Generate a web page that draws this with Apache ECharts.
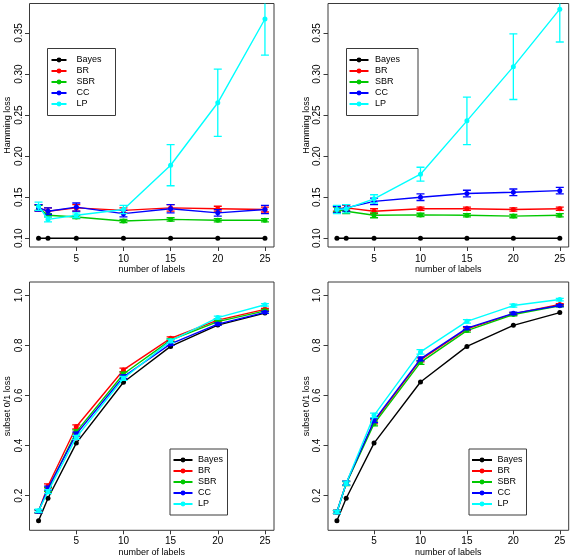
<!DOCTYPE html>
<html>
<head>
<meta charset="utf-8">
<script src="https://cdn.jsdelivr.net/npm/echarts@6/dist/echarts.min.js"></script>
<style>
html,body{margin:0;padding:0;background:#fff;}
#c{width:576px;height:558px;}
</style>
</head>
<body>
<div id="c"></div>
<script>
// ---------- data ----------
const labelsCount = [1, 2, 5, 10, 15, 20, 25];
const methods = ['Bayes', 'BR', 'SBR', 'CC', 'LP'];
const methodColors = ['#000000', '#ff0000', '#00c800', '#0000ff', '#00ffff'];

const xTicks = [5, 10, 15, 20, 25];
const hammingTicks = [0.10, 0.15, 0.20, 0.25, 0.30, 0.35];
const subsetTicks = [0.2, 0.4, 0.6, 0.8, 1.0];

// Panel 1: Hamming loss (left)
const hamA_Bayes = [0.100, 0.100, 0.100, 0.100, 0.100, 0.100, 0.100];
const hamA_BR    = [0.137, 0.133, 0.137, 0.134, 0.137, 0.136, 0.135];
const hamA_SBR   = [0.137, 0.128, 0.126, 0.121, 0.123, 0.122, 0.122];
const hamA_CC    = [0.137, 0.133, 0.138, 0.130, 0.136, 0.131, 0.135];
const hamA_LP    = [0.139, 0.123, 0.128, 0.135, 0.189, 0.265, 0.367];
const hamA_BR_err  = [0.004, 0.004, 0.004, 0.003, 0.004, 0.003, 0.003];
const hamA_SBR_err = [0.003, 0.002, 0.002, 0.002, 0.002, 0.002, 0.002];
const hamA_CC_err  = [0.004, 0.004, 0.005, 0.004, 0.005, 0.004, 0.005];
const hamA_LP_err  = [0.005, 0.003, 0.003, 0.005, 0.025, 0.041, 0.044];

// Panel 2: Hamming loss (right)
const hamB_Bayes = [0.100, 0.100, 0.100, 0.100, 0.100, 0.100, 0.100];
const hamB_BR    = [0.136, 0.137, 0.133, 0.136, 0.136, 0.135, 0.136];
const hamB_SBR   = [0.135, 0.133, 0.128, 0.1285, 0.128, 0.127, 0.128];
const hamB_CC    = [0.135, 0.137, 0.145, 0.150, 0.1545, 0.156, 0.158];
const hamB_LP    = [0.135, 0.136, 0.148, 0.178, 0.243, 0.309, 0.379];
const hamB_BR_err  = [0.003, 0.003, 0.003, 0.002, 0.002, 0.002, 0.002];
const hamB_SBR_err = [0.003, 0.003, 0.003, 0.002, 0.002, 0.002, 0.002];
const hamB_CC_err  = [0.004, 0.004, 0.004, 0.004, 0.004, 0.004, 0.004];
const hamB_LP_err  = [0.005, 0.005, 0.005, 0.0085, 0.029, 0.040, 0.040];

// Panel 3: subset 0/1 loss (left)
const subA_Bayes = [0.100, 0.190, 0.410, 0.653, 0.796, 0.881, 0.929];
const subA_BR    = [0.138, 0.239, 0.475, 0.702, 0.828, 0.901, 0.944];
const subA_SBR   = [0.138, 0.225, 0.455, 0.686, 0.821, 0.895, 0.938];
const subA_CC    = [0.138, 0.230, 0.446, 0.675, 0.806, 0.885, 0.932];
const subA_LP    = [0.140, 0.216, 0.433, 0.668, 0.818, 0.911, 0.962];
const subA_BR_err  = [0.006, 0.008, 0.008, 0.007, 0.006, 0.005, 0.004];
const subA_SBR_err = [0.006, 0.008, 0.008, 0.007, 0.006, 0.005, 0.004];
const subA_CC_err  = [0.006, 0.008, 0.008, 0.007, 0.006, 0.005, 0.004];
const subA_LP_err  = [0.006, 0.008, 0.008, 0.008, 0.007, 0.006, 0.005];

// Panel 4: subset 0/1 loss (right)
const subB_Bayes = [0.100, 0.190, 0.410, 0.654, 0.796, 0.880, 0.931];
const subB_BR    = [0.135, 0.250, 0.495, 0.742, 0.866, 0.926, 0.963];
const subB_SBR   = [0.135, 0.248, 0.487, 0.732, 0.859, 0.923, 0.958];
const subB_CC    = [0.135, 0.250, 0.4995, 0.746, 0.869, 0.928, 0.959];
const subB_LP    = [0.135, 0.250, 0.521, 0.774, 0.896, 0.959, 0.983];
const subB_BR_err  = [0.006, 0.008, 0.008, 0.008, 0.006, 0.005, 0.004];
const subB_SBR_err = [0.006, 0.008, 0.008, 0.008, 0.006, 0.005, 0.004];
const subB_CC_err  = [0.006, 0.008, 0.008, 0.008, 0.006, 0.005, 0.004];
const subB_LP_err  = [0.006, 0.008, 0.009, 0.009, 0.007, 0.006, 0.005];

// ---------- layout / styling ----------
const FONT = 'Liberation Sans, Arial, Helvetica, sans-serif';
const panels = [
  { grid: {left: 29.5, top: 3.5, width: 244.5, height: 243.5},
    yMin: 0.0894, yMax: 0.3859, ticks: hammingTicks, dec: 2, yName: 'Hamming loss', xGap: 16, xMargin: 7,
    vals: [hamA_Bayes, hamA_BR, hamA_SBR, hamA_CC, hamA_LP],
    errs: [null, hamA_BR_err, hamA_SBR_err, hamA_CC_err, hamA_LP_err],
    legend: {left: 47.5, top: 48.5, padding: [6, 14, 6, 3], itemWidth: 15, textGap: 5} },
  { grid: {left: 328, top: 3.5, width: 240.7, height: 243.5},
    yMin: 0.0894, yMax: 0.3859, ticks: hammingTicks, dec: 2, yName: 'Hamming loss', xGap: 16, xMargin: 7,
    vals: [hamB_Bayes, hamB_BR, hamB_SBR, hamB_CC, hamB_LP],
    errs: [null, hamB_BR_err, hamB_SBR_err, hamB_CC_err, hamB_LP_err],
    legend: {left: 346.5, top: 48.5, padding: [6, 18, 6, 2], itemWidth: 19, textGap: 1.5} },
  { grid: {left: 29.5, top: 282, width: 244.5, height: 248.3},
    yMin: 0.062, yMax: 1.053, ticks: subsetTicks, dec: 1, yName: 'subset 0/1 loss', xGap: 17.5, xMargin: 6,
    vals: [subA_Bayes, subA_BR, subA_SBR, subA_CC, subA_LP],
    errs: [null, subA_BR_err, subA_SBR_err, subA_CC_err, subA_LP_err],
    legend: {left: 170, top: 449, padding: [5.5, 4.5, 5.5, 2.5], itemWidth: 19, textGap: 0.5} },
  { grid: {left: 328, top: 282, width: 240.7, height: 248.3},
    yMin: 0.062, yMax: 1.053, ticks: subsetTicks, dec: 1, yName: 'subset 0/1 loss', xGap: 17.5, xMargin: 6,
    vals: [subB_Bayes, subB_BR, subB_SBR, subB_CC, subB_LP],
    errs: [null, subB_BR_err, subB_SBR_err, subB_CC_err, subB_LP_err],
    legend: {left: 469, top: 449, padding: [5.5, 4, 5.5, 2], itemWidth: 20, textGap: 0.5} }
];

const grids = [], xAxes = [], yAxes = [], series = [], legends = [];

panels.forEach((p, i) => {
  grids.push(Object.assign({show: true, borderColor: '#3a3a3a', borderWidth: 1, backgroundColor: 'transparent'}, p.grid));
  xAxes.push({
    type: 'value', gridIndex: i, min: 0.04, max: 25.96,
    name: 'number of labels', nameLocation: 'middle', nameGap: p.xGap,
    nameTextStyle: {fontFamily: FONT, fontSize: 9, color: '#000'},
    axisLine: {show: false},
    axisTick: {show: true, length: 4, lineStyle: {color: '#3a3a3a'}, customValues: xTicks},
    axisLabel: {fontFamily: FONT, fontSize: 10, color: '#000', margin: p.xMargin, customValues: xTicks},
    splitLine: {show: false}
  });
  yAxes.push({
    type: 'value', gridIndex: i, min: p.yMin, max: p.yMax,
    name: p.yName, nameLocation: 'middle', nameGap: 17,
    nameTextStyle: {fontFamily: FONT, fontSize: 9, color: '#000'},
    axisLine: {show: false},
    axisTick: {show: true, length: 4.5, lineStyle: {color: '#3a3a3a'}, customValues: p.ticks},
    axisLabel: {fontFamily: FONT, fontSize: 10, color: '#000', rotate: 90, margin: 5.5,
                customValues: p.ticks, formatter: v => Number(v).toFixed(p.dec)},
    splitLine: {show: false}
  });
  methods.forEach((m, k) => {
    series.push({
      type: 'line', name: m, xAxisIndex: i, yAxisIndex: i,
      data: labelsCount.map((x, j) => [x, p.vals[k][j]]),
      symbol: 'circle', symbolSize: 5, showSymbol: true,
      lineStyle: {width: 1.4, color: methodColors[k]},
      itemStyle: {color: methodColors[k]},
      clip: true, animation: false, z: 2 + k
    });
    if (p.errs[k]) {
      const col = methodColors[k];
      series.push({
        type: 'custom', name: m + ' err', xAxisIndex: i, yAxisIndex: i,
        data: labelsCount.map((x, j) => [x, p.vals[k][j], p.errs[k][j]]),
        clip: true, animation: false, z: 2 + k,
        renderItem: function (params, api) {
          const x = api.value(0), y = api.value(1), e = api.value(2);
          const lo = api.coord([x, y - e]);
          const hi = api.coord([x, y + e]);
          const hw = 4;
          const style = {stroke: col, lineWidth: 1.3};
          return {
            type: 'group',
            children: [
              {type: 'line', shape: {x1: lo[0], y1: lo[1], x2: hi[0], y2: hi[1]}, style: style},
              {type: 'line', shape: {x1: lo[0] - hw, y1: lo[1], x2: lo[0] + hw, y2: lo[1]}, style: style},
              {type: 'line', shape: {x1: hi[0] - hw, y1: hi[1], x2: hi[0] + hw, y2: hi[1]}, style: style}
            ]
          };
        }
      });
    }
  });
  legends.push({
    orient: 'vertical', left: p.legend.left, top: p.legend.top,
    padding: p.legend.padding,
    itemWidth: p.legend.itemWidth, itemHeight: 6, itemGap: 0,
    borderColor: '#3a3a3a', borderWidth: 1, borderRadius: 0, backgroundColor: '#ffffff',
    selectedMode: false,
    data: methods,
    textStyle: {fontFamily: FONT, fontSize: 9, color: '#000', lineHeight: 11, padding: [0, 0, 0, p.legend.textGap]}
  });
});

const chart = echarts.init(document.getElementById('c'), null, {renderer: 'canvas'});
chart.setOption({
  animation: false,
  backgroundColor: '#ffffff',
  grid: grids, xAxis: xAxes, yAxis: yAxes, legend: legends, series: series
});
</script>
</body>
</html>
